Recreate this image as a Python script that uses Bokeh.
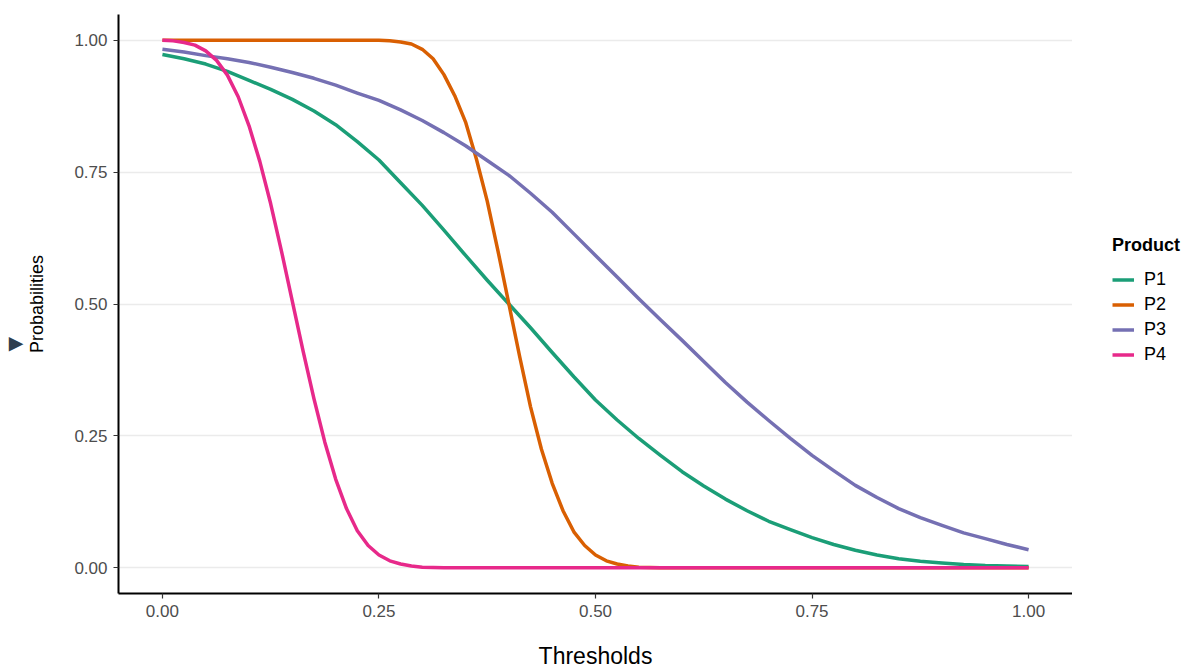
from bokeh.plotting import figure
from bokeh.layouts import row
from bokeh.models import Legend, LegendItem, Title, FixedTicker, Range1d
from bokeh.embed import file_html
from bokeh.resources import INLINE

thresholds = [0.0, 0.025, 0.05, 0.075, 0.1, 0.125, 0.15, 0.175, 0.2, 0.225, 0.25,
              0.275, 0.3, 0.325, 0.35, 0.375, 0.4, 0.425, 0.45, 0.475, 0.5,
              0.525, 0.55, 0.575, 0.6, 0.625, 0.65, 0.675, 0.7, 0.725, 0.75,
              0.775, 0.8, 0.825, 0.85, 0.875, 0.9, 0.925, 0.95, 0.975, 1.0]

p1 = [0.973, 0.965, 0.955, 0.941, 0.924, 0.907, 0.888, 0.866, 0.840, 0.808, 0.773,
      0.730, 0.687, 0.640, 0.592, 0.545, 0.500, 0.455, 0.408, 0.362, 0.318,
      0.280, 0.245, 0.213, 0.182, 0.155, 0.130, 0.108, 0.088, 0.072, 0.057,
      0.044, 0.033, 0.024, 0.017, 0.012, 0.009, 0.006, 0.004, 0.003, 0.002]

p3 = [0.983, 0.978, 0.971, 0.965, 0.958, 0.949, 0.939, 0.928, 0.915, 0.900, 0.886,
      0.868, 0.848, 0.825, 0.800, 0.772, 0.744, 0.710, 0.674, 0.633, 0.592,
      0.551, 0.510, 0.470, 0.431, 0.391, 0.351, 0.314, 0.279, 0.245, 0.213,
      0.184, 0.156, 0.133, 0.112, 0.095, 0.080, 0.066, 0.055, 0.044, 0.034]

# steep curves read at a finer threshold step
thresholds_p2 = [0.0, 0.25, 0.2625, 0.275, 0.2875, 0.3, 0.3125, 0.325, 0.3375, 0.35,
                 0.3625, 0.375, 0.3875, 0.4, 0.4125, 0.425, 0.4375, 0.45, 0.4625,
                 0.475, 0.4875, 0.5, 0.5125, 0.525, 0.5375, 0.55, 0.575, 1.0]
p2 = [1.0, 1.0, 0.999, 0.997, 0.993, 0.983, 0.965, 0.935, 0.895, 0.845,
      0.775, 0.695, 0.600, 0.500, 0.400, 0.305, 0.225, 0.160, 0.108,
      0.068, 0.042, 0.024, 0.013, 0.007, 0.003, 0.001, 0.0, 0.0]

thresholds_p4 = [0.0, 0.0125, 0.025, 0.0375, 0.05, 0.0625, 0.075, 0.0875, 0.1, 0.1125,
                 0.125, 0.1375, 0.15, 0.1625, 0.175, 0.1875, 0.2, 0.2125, 0.225,
                 0.2375, 0.25, 0.2625, 0.275, 0.2875, 0.3, 0.325, 1.0]
p4 = [1.0, 0.999, 0.996, 0.991, 0.980, 0.962, 0.934, 0.893, 0.838, 0.770,
      0.690, 0.600, 0.505, 0.410, 0.320, 0.238, 0.168, 0.112, 0.070,
      0.042, 0.024, 0.013, 0.007, 0.003, 0.001, 0.0, 0.0]

products = ["P1", "P2", "P3", "P4"]
colors = ["#1B9E77", "#D95F02", "#7570B3", "#E7298A"]
tick_values = [0.0, 0.25, 0.5, 0.75, 1.0]
tick_labels = ["0.00", "0.25", "0.50", "0.75", "1.00"]

FONT = "Liberation Sans"

p = figure(width=1072, height=671, output_backend="svg",
           toolbar_location=None, min_border_left=117, min_border_top=14,
           min_border_bottom=78, min_border_right=0,
           x_range=Range1d(-0.0507, 1.0507), y_range=Range1d(-0.049, 1.049))
p.outline_line_color = None
p.background_fill_color = "white"
p.border_fill_color = "white"

series = [(thresholds, p1), (thresholds_p2, p2), (thresholds, p3), (thresholds_p4, p4)]
for (xs, ys), c in zip(series, colors):
    p.line(xs, ys, line_color=c, line_width=3.5, line_join="round")

# grid
p.xgrid.grid_line_color = None
p.ygrid.grid_line_color = "#EBEBEB"
p.ygrid.grid_line_width = 1.3
p.ygrid.ticker = FixedTicker(ticks=tick_values)

for ax in (p.xaxis[0], p.yaxis[0]):
    ax.ticker = FixedTicker(ticks=tick_values)
    ax.major_label_overrides = dict(zip(tick_values, tick_labels))
    ax.minor_tick_line_color = None
    ax.major_tick_in = 0
    ax.major_tick_out = 5
    ax.major_tick_line_color = "#333333"
    ax.major_tick_line_width = 1.2
    ax.axis_line_color = "#000000"
    ax.axis_line_width = 2
    ax.major_label_text_font = FONT
    ax.major_label_text_font_size = "17px"
    ax.major_label_text_color = "#4D4D4D"
    ax.axis_label_text_font = FONT
    ax.axis_label_text_font_style = "normal"
    ax.axis_label_text_color = "#000000"

p.xaxis.axis_label = "Thresholds"
p.xaxis.axis_label_text_font_size = "23px"
p.xaxis.major_label_standoff = 6
p.xaxis.axis_label_standoff = 23

p.yaxis.axis_label = "Probabilities"
p.yaxis.axis_label_text_font_size = "18px"
p.yaxis.major_label_standoff = 6
p.yaxis.axis_label_standoff = 24

# small navigation arrow at the left edge (rotated down-pointing triangle)
arrow = Title(text="\u25BC", text_color="#2C3E50", text_font_size="19px",
              text_font="DejaVu Sans", align="left", offset=242,
              standoff=0)
p.add_layout(arrow, "left")

# legend panel: same series drawn out of this panel's view, only the legend shows
lg = figure(width=132, height=671, output_backend="svg", toolbar_location=None,
            min_border=0, x_range=Range1d(5, 6), y_range=Range1d(5, 6))
lg.axis.visible = False
lg.grid.visible = False
lg.outline_line_color = None
lg.background_fill_color = "white"
lg.border_fill_color = "white"
items = []
for name, (xs, ys), c in zip(products, series, colors):
    r = lg.line(xs, ys, line_color=c, line_width=3.5)
    items.append(LegendItem(label=name, renderers=[r]))

legend = Legend(items=items, title="Product", location=(40, 226),
                title_text_font=FONT, title_text_font_style="bold",
                title_text_font_size="18px", title_text_color="#000000",
                label_text_font=FONT, label_text_font_size="18px",
                label_text_color="#000000",
                glyph_width=22, glyph_height=25, label_height=25,
                label_standoff=10, spacing=0, padding=6, margin=0,
                title_standoff=11,
                border_line_color=None, background_fill_alpha=0)
lg.add_layout(legend)

layout = row(p, lg, spacing=0)
open("out.html", "w").write(file_html(layout, INLINE))
